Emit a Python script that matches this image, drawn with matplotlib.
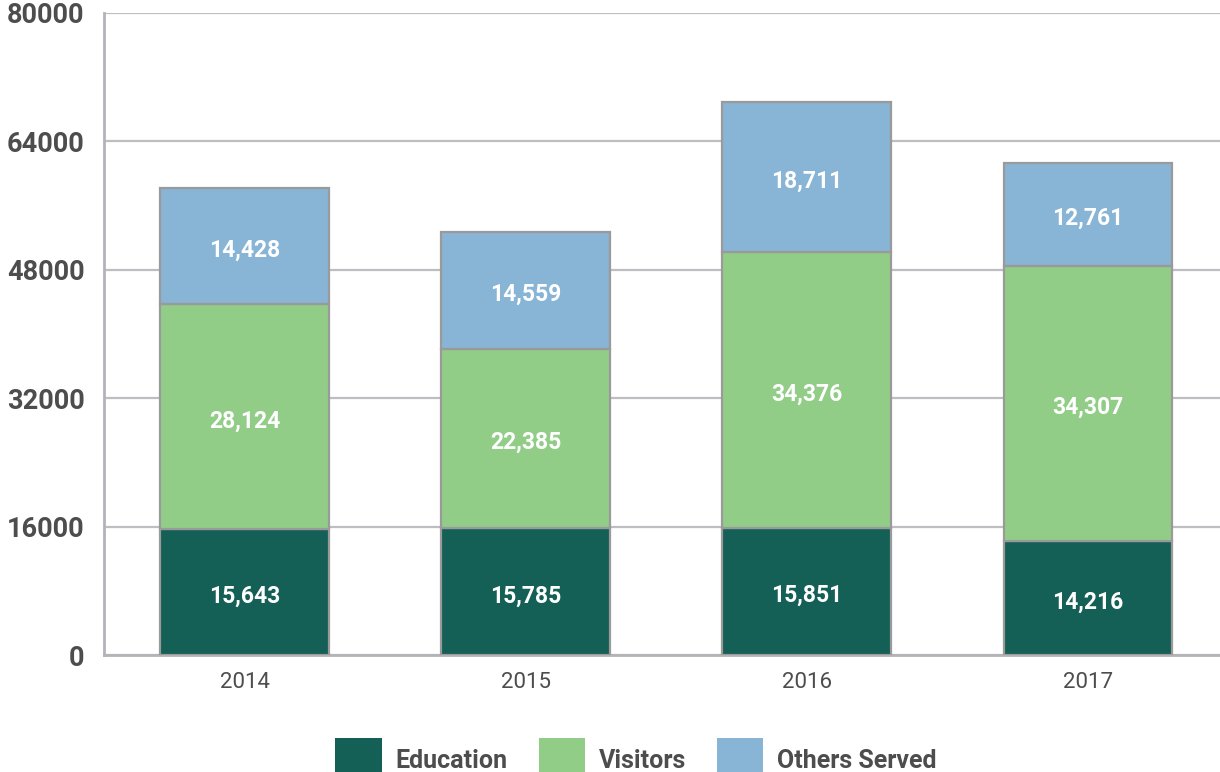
import matplotlib
matplotlib.use("Agg")
import matplotlib.pyplot as plt
from matplotlib.patches import Patch
import numpy as np

years = ["2014", "2015", "2016", "2017"]
education = [15643, 15785, 15851, 14216]
visitors = [28124, 22385, 34376, 34307]
others = [14428, 14559, 18711, 12761]
series_names = ["Education", "Visitors", "Others Served"]
colors = ["#145F56", "#92CD88", "#88B4D6"]
yticks = [0, 16000, 32000, 48000, 64000, 80000]

plt.rcParams['font.family'] = ['Roboto', 'DejaVu Sans']

fig = plt.figure(figsize=(12.2, 7.72), dpi=100)
ax = fig.add_axes([104/1220, 1 - 655/772, 1 - 104/1220, (655 - 13)/772])

x = np.arange(len(years))
width = 0.6
bottom = np.zeros(len(years))
for vals, col, name in zip([education, visitors, others], colors, series_names):
    vals = np.array(vals, dtype=float)
    ax.bar(x, vals, width, bottom=bottom, color=col, edgecolor="#9A9A9A",
           linewidth=1.6, label=name, zorder=3)
    for xi, b, v in zip(x, bottom, vals):
        ax.annotate(f"{int(v):,}", (xi, b + v / 2), xytext=(0, -3), textcoords="offset points",
                    ha="center", va="center", color="white", fontsize=16.5,
                    fontweight="bold", zorder=4)
    bottom += vals

ax.set_xlim(-0.5, 3.47)
ax.set_ylim(0, 80000)
ax.set_yticks(yticks)
ax.set_yticklabels([str(t) for t in yticks], fontsize=19.5, fontweight="bold", color="#4D4D4D")
ax.set_xticks(x)
ax.set_xticklabels(years, fontsize=16, color="#4D4D4D")
ax.tick_params(axis="y", length=0, pad=14)
ax.tick_params(axis="x", length=0, pad=12)
ax.yaxis.grid(True, color="#BDBDC2", linewidth=1.6, zorder=0)
ax.set_axisbelow(True)
for s in ["top", "right"]:
    ax.spines[s].set_visible(False)
for s in ["left", "bottom"]:
    ax.spines[s].set_color("#B3B3B8")
    ax.spines[s].set_linewidth(2)

handles = [Patch(facecolor=c, edgecolor="none") for c in colors]
leg = fig.legend(handles, series_names, loc="center", bbox_to_anchor=(636/1220, 1 - 760/772),
                 ncol=3, frameon=False, fontsize=18, handlelength=1.85, handleheight=2.3,
                 handletextpad=0.55, columnspacing=1.25, borderaxespad=0, borderpad=0)
for t in leg.get_texts():
    t.set_fontweight("bold")
    t.set_color("#4D4D4D")

fig.savefig("out.png", dpi=100)
